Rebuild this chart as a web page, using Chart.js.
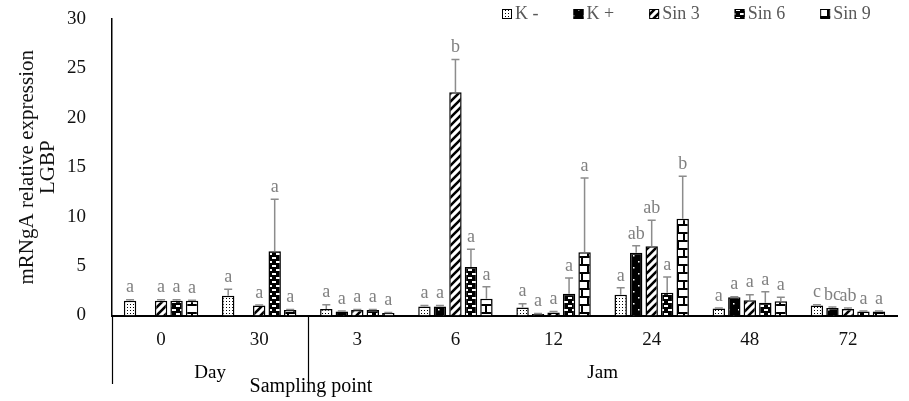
<!DOCTYPE html>
<html>
<head>
<meta charset="utf-8">
<script src="https://cdn.jsdelivr.net/npm/chart.js@4.4.0/dist/chart.umd.min.js"></script>
<style>
  html, body { margin: 0; padding: 0; background: #fff; }
  #wrap { width: 909px; height: 401px; position: relative; }
</style>
</head>
<body>
<div id="wrap"><canvas id="lgbp"></canvas></div>
<script>
// sampling points (x categories) and the two bigger groups under them
const samplingPoints = ['0', '30', '3', '6', '12', '24', '48', '72'];
const periodNames = ['Day', 'Jam'];
const periodSizes = [2, 6];

const seriesNames = ['K -', 'K +', 'Sin 3', 'Sin 6', 'Sin 9'];

// mean relative expression
const kMinus = [1.5, 2.0, 0.65, 0.9, 0.8, 2.1, 0.7, 1.0];
const kPlus  = [null, null, 0.4, 0.9, 0.15, 6.35, 1.85, 0.75];
const sin3   = [1.5, 1.0, 0.55, 22.6, 0.3, 7.0, 1.55, 0.65];
const sin6   = [1.5, 6.5, 0.55, 4.9, 2.2, 2.3, 1.3, 0.4];
const sin9   = [1.5, 0.55, 0.25, 1.7, 6.4, 9.8, 1.45, 0.4];

// upper error (SD)
const kMinusSd = [0.1, 0.65, 0.45, 0.1, 0.4, 0.7, 0.05, 0.1];
const kPlusSd  = [null, null, 0.05, 0.1, 0.05, 0.7, 0.05, 0.1];
const sin3Sd   = [0.1, 0.05, 0.05, 3.3, 0.1, 2.65, 0.55, 0.1];
const sin6Sd   = [0.1, 5.25, 0.05, 1.8, 1.6, 1.6, 1.1, 0.05];
const sin9Sd   = [0.05, 0.05, 0.05, 1.2, 7.5, 4.3, 0.4, 0.05];

// significance letters
const kMinusSig = ['a', 'a', 'a', 'a', 'a', 'a', 'a', 'c'];
const kPlusSig  = ['', '', 'a', 'a', 'a', 'ab', 'a', 'bc'];
const sin3Sig   = ['a', 'a', 'a', 'b', 'a', 'ab', 'a', 'ab'];
const sin6Sig   = ['a', 'a', 'a', 'a', 'a', 'a', 'a', 'a'];
const sin9Sig   = ['a', 'a', 'a', 'a', 'a', 'b', 'a', 'a'];

const yTicks = [0, 5, 10, 15, 20, 25, 30];

const serif = '"Liberation Serif", "Times New Roman", serif';

var canvas = document.getElementById('lgbp');
var ctx = canvas.getContext('2d');

// tiny tiles for the Excel-like fill patterns
function tile(w, h, paint) {
  var c = document.createElement('canvas');
  c.width = w; c.height = h;
  var g = c.getContext('2d');
  paint(g);
  return ctx.createPattern(c, 'repeat');
}

var patDots = tile(3, 3, function (g) {
  g.fillStyle = '#fff'; g.fillRect(0, 0, 3, 3);
  g.fillStyle = '#000'; g.fillRect(1, 1, 1, 1);
});
var patBlack = tile(10, 12, function (g) {
  g.fillStyle = '#000'; g.fillRect(0, 0, 10, 12);
  g.fillStyle = '#fff'; g.fillRect(3, 3, 1.5, 1.5); g.fillRect(8, 9, 1.5, 1.5);
});
var patDiag = tile(8, 8, function (g) {
  g.fillStyle = '#fff'; g.fillRect(0, 0, 8, 8);
  g.strokeStyle = '#000'; g.lineWidth = 2.6;
  g.beginPath();
  g.moveTo(-1, 9); g.lineTo(9, -1);
  g.moveTo(-1, 1); g.lineTo(1, -1);
  g.moveTo(7, 9); g.lineTo(9, 7);
  g.stroke();
});
var patDash = tile(8, 8, function (g) {
  g.fillStyle = '#000'; g.fillRect(0, 0, 8, 8);
  g.fillStyle = '#fff'; g.fillRect(0, 1, 4, 2); g.fillRect(4, 5, 4, 2);
});
var patBrick = tile(12, 16, function (g) {
  g.fillStyle = '#fff'; g.fillRect(0, 0, 12, 16);
  g.fillStyle = '#000';
  g.fillRect(0, 0, 12, 2); g.fillRect(0, 8, 12, 2);
  g.fillRect(5, 0, 2, 8); g.fillRect(0, 8, 1, 8); g.fillRect(11, 8, 1, 8);
});

var values = [kMinus, kPlus, sin3, sin6, sin9];
var errors = [kMinusSd, kPlusSd, sin3Sd, sin6Sd, sin9Sd];
var letters = [kMinusSig, kPlusSig, sin3Sig, sin6Sig, sin9Sig];
var fills = [patDots, patBlack, patDiag, patDash, patBrick];

var datasets = seriesNames.map(function (name, i) {
  return {
    label: name,
    data: values[i],
    backgroundColor: fills[i],
    borderColor: '#000',
    borderWidth: 1.5
  };
});

// error bars + letters
var errorBars = {
  id: 'errorBars',
  afterDatasetsDraw: function (chart) {
    var c = chart.ctx, y = chart.scales.y;
    c.save();
    c.strokeStyle = '#8c8c8c';
    c.lineWidth = 1.5;
    c.fillStyle = '#808080';
    c.font = '18px ' + serif;
    c.textAlign = 'center';
    c.textBaseline = 'bottom';
    datasets.forEach(function (ds, i) {
      var meta = chart.getDatasetMeta(i);
      ds.data.forEach(function (v, j) {
        if (v === null) return;
        var bar = meta.data[j];
        var top = y.getPixelForValue(v);
        var sd = errors[i][j] || 0;
        var tip = y.getPixelForValue(v + sd);
        if (sd > 0) {
          c.beginPath();
          c.moveTo(bar.x, top); c.lineTo(bar.x, tip);
          c.moveTo(bar.x - 4, tip); c.lineTo(bar.x + 4, tip);
          c.stroke();
        }
        if (letters[i][j]) c.fillText(letters[i][j], bar.x, tip - 3);
      });
    });
    c.restore();
  }
};

// second level of the x axis, axis title and the legend
var extras = {
  id: 'extras',
  afterDraw: function (chart) {
    var c = chart.ctx, x = chart.scales.x, area = chart.chartArea;
    c.save();
    c.strokeStyle = '#000';
    c.lineWidth = 1.2;
    c.fillStyle = '#000';
    c.font = '19px ' + serif;
    c.textAlign = 'center';
    c.textBaseline = 'middle';
    var start = 0;
    var half = (x.getPixelForValue(1) - x.getPixelForValue(0)) / 2;
    var edges = [area.left];
    periodNames.forEach(function (p, k) {
      var end = start + periodSizes[k] - 1;
      var l = x.getPixelForValue(start) - half;
      var r = x.getPixelForValue(end) + half;
      edges.push(r);
      c.fillText(p, (l + r) / 2, 373);
      start = end + 1;
    });
    edges.slice(0, edges.length - 1).forEach(function (ex) {
      c.beginPath();
      c.moveTo(Math.round(ex) + 0.5, area.bottom);
      c.lineTo(Math.round(ex) + 0.5, 384);
      c.stroke();
    });
    c.font = '20px ' + serif;
    c.fillText('Sampling point', 311, 387);

    // legend
    c.font = '18px ' + serif;
    c.textAlign = 'left';
    var lx = 502, ly = 14;
    seriesNames.forEach(function (name, i) {
      c.fillStyle = fills[i];
      c.fillRect(lx, ly - 5, 10, 10);
      c.lineWidth = 1;
      c.strokeRect(lx + 0.5, ly - 4.5, 9, 9);
      c.fillStyle = '#595959';
      c.fillText(name, lx + 13, ly);
      lx += 13 + c.measureText(name).width + 35;
    });
    c.restore();
  }
};

var chart = new Chart(ctx, {
  type: 'bar',
  data: { labels: samplingPoints, datasets: datasets },
  options: {
    responsive: true,
    maintainAspectRatio: false,
    animation: false,
    layout: { padding: { top: 19, right: 12, bottom: 0, left: 0 } },
    datasets: { bar: { categoryPercentage: 0.79, barPercentage: 0.8 } },
    plugins: { legend: { display: false }, tooltip: { enabled: false } },
    scales: {
      x: {
        grid: { display: false, drawTicks: false },
        border: { display: true, color: '#000', width: 2 },
        ticks: { color: '#111', font: { family: serif, size: 19 }, padding: 13 },
        afterFit: function (s) { s.height = 85.5; }
      },
      y: {
        min: 0,
        max: 30,
        afterBuildTicks: function (s) { s.ticks = yTicks.map(function (v) { return { value: v }; }); },
        grid: { display: false, drawTicks: false },
        border: { display: true, color: '#000', width: 1.5 },
        ticks: { color: '#111', font: { family: serif, size: 19 }, padding: 26 },
        title: {
          display: true,
          text: ['mRNgA relative expression', 'LGBP'],
          color: '#111',
          font: { family: serif, size: 21, lineHeight: 1.0 },
          padding: { top: 17, bottom: 0 }
        },
        // keep the plot top pinned to the layout padding
        afterFit: function (s) { s.width = 112; s.paddingTop = 0; s.paddingBottom = 0; }
      }
    }
  },
  plugins: [errorBars, extras]
});
</script>
</body>
</html>
